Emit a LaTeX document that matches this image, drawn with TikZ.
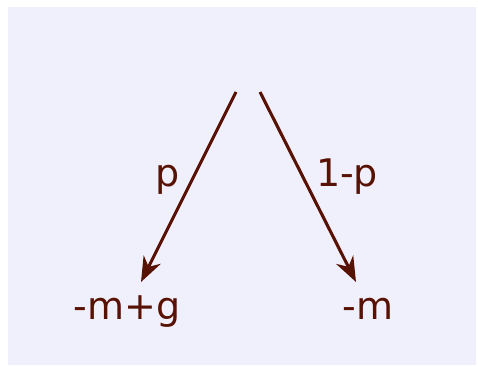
\documentclass[tikz,border=0pt]{standalone}
\usepackage{fontspec}
\setmainfont{DejaVu Sans}
\usetikzlibrary{arrows.meta}
\definecolor{bg}{RGB}{240,240,252}
\definecolor{ink}{RGB}{88,18,4}
\begin{document}
\begin{tikzpicture}[x=1pt,y=1pt,
  lbl/.style={anchor=base,text=ink,font=\fontsize{38}{44}\selectfont,inner sep=0pt},
  branch/.style={draw=ink,line width=3.1pt,-{Stealth[length=25pt,width=19pt,inset=8pt]}}]
\useasboundingbox (0,0) rectangle (478,365);
\fill[bg] (8,0) rectangle (476,358);
\coordinate (s1) at (236,273);
\coordinate (s2) at (260,273);
\coordinate (e1) at (141,83);
\coordinate (e2) at (356,83);
\node[lbl] (win) at (127,46) {-m+g};
\node[lbl] (lose) at (368,46) {-m};
\node[lbl] (pp) at (168,179) {p};
\node[lbl] (qp) at (347,179) {1-p};
\draw[branch] (s1) -- (e1);
\draw[branch] (s2) -- (e2);
\end{tikzpicture}
\end{document}
